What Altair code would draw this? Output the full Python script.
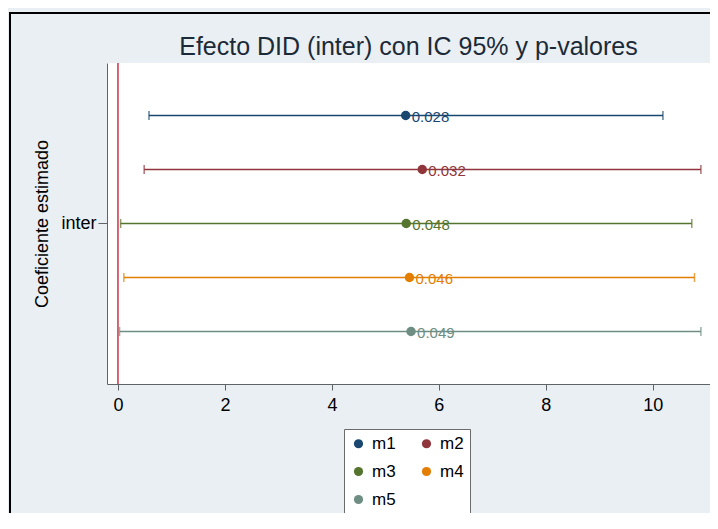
import altair as alt
import pandas as pd

# ---- data ----
models = ["m1", "m2", "m3", "m4", "m5"]
coef = [5.38, 5.69, 5.39, 5.45, 5.48]
ci_low = [0.58, 0.49, 0.05, 0.11, 0.03]
ci_high = [10.19, 10.90, 10.73, 10.78, 10.90]
pvalues = ["0.028", "0.032", "0.048", "0.046", "0.049"]
term = ["inter"] * 5
colors = ["#1a476f", "#90353b", "#55752f", "#e37e00", "#6e8e84"]
x_ticks = [0, 2, 4, 6, 8, 10]
zero_line = [0]

df = pd.DataFrame({"model": models, "term": term, "coef": coef,
                   "lo": ci_low, "hi": ci_high, "p": pvalues})
zdf = pd.DataFrame({"z": zero_line})

FONT = "Liberation Sans"
AX = "#5f6466"

xscale = alt.Scale(domain=[-0.205, 11.07], nice=False, zero=False)
y_enc = alt.Y("term:N", title="Coeficiente estimado",
              scale=alt.Scale(paddingInner=0, paddingOuter=0),
              axis=alt.Axis(labelFontSize=18, labelColor="black", labelFont=FONT,
                            tickSize=9, labelPadding=2, tickColor=AX, domainColor=AX,
                            titleFontSize=18, titleFont=FONT, titleFontWeight="normal",
                            titleColor="black", titlePadding=9, labelAngle=0))
yoff = alt.YOffset("model:N", sort=models,
                   scale=alt.Scale(paddingOuter=0.472, paddingInner=0))
color = alt.Color("model:N", sort=models,
                  scale=alt.Scale(domain=models, range=colors),
                  legend=alt.Legend(title=None, orient="none", legendX=237, legendY=366,
                                    columns=2, direction="horizontal",
                                    fillColor="white", strokeColor="#6b6b6b",
                                    padding=6, labelFontSize=17, labelFont=FONT,
                                    labelColor="black", symbolType="circle",
                                    symbolSize=85, symbolStrokeWidth=0, symbolOpacity=1,
                                    rowPadding=10, columnPadding=22, labelOffset=5))

base = alt.Chart(df)

points = base.mark_circle(size=90, opacity=1).encode(
    x=alt.X("coef:Q", scale=xscale, title=None,
            axis=alt.Axis(values=x_ticks, format="d", grid=False, labelFontSize=18,
                          labelFont=FONT, labelColor="black", tickSize=6, tickColor=AX,
                          domainColor=AX, labelPadding=6, labelAngle=0)),
    y=y_enc, yOffset=yoff, color=color)

zero = alt.Chart(zdf).mark_rule(color="#cc3344", strokeWidth=1.5).encode(
    x=alt.X("z:Q", scale=xscale))

ci = base.mark_rule(strokeWidth=1.5).encode(
    x=alt.X("lo:Q", scale=xscale), x2="hi:Q", y=y_enc, yOffset=yoff, color=color)
cap_lo = base.mark_tick(size=9, thickness=1.5).encode(
    x=alt.X("lo:Q", scale=xscale), y=y_enc, yOffset=yoff, color=color)
cap_hi = base.mark_tick(size=9, thickness=1.5).encode(
    x=alt.X("hi:Q", scale=xscale), y=y_enc, yOffset=yoff, color=color)
labels = base.mark_text(align="left", baseline="middle", dx=6, dy=1.5,
                        fontSize=15, font=FONT).encode(
    x=alt.X("coef:Q", scale=xscale), y=y_enc, yOffset=yoff, color=color, text="p:N")

border_left = alt.Chart(zdf).mark_rule(color="black", strokeWidth=2).encode(
    x=alt.value(-97), y=alt.value(-50), y2=alt.value(460))
border_top = alt.Chart(zdf).mark_rule(color="black", strokeWidth=2).encode(
    x=alt.value(-98), x2=alt.value(620), y=alt.value(-50))

chart = alt.layer(zero, ci, cap_lo, cap_hi, points, labels, border_left, border_top).properties(
    width=603, height=321,
    title=alt.TitleParams(text="Efecto DID (inter) con IC 95% y p-valores", fontSize=25,
                          font=FONT, fontWeight="normal", color="#1c2a38",
                          anchor="middle", frame="group", baseline="alphabetic",
                          offset=-68),
    autosize=alt.AutoSizeParams(type="none"),
    padding={"left": 99, "top": 55, "right": 0, "bottom": 129},
).configure(background="#e9eff2").configure_view(fill="white", stroke=None)

chart.save("out.html", embed_options={"renderer": "svg", "actions": False})
